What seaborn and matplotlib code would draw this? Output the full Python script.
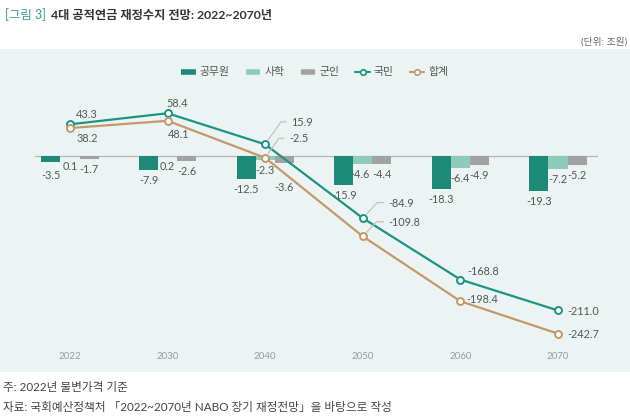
import numpy as np
import pandas as pd
import matplotlib
matplotlib.use("Agg")
import matplotlib.pyplot as plt
from matplotlib.lines import Line2D
from matplotlib.patches import Rectangle
import seaborn as sns

# ---------------- data ----------------
years = ["2022", "2030", "2040", "2050", "2060", "2070"]
bar_series = ["공무원", "사학", "군인"]
gongmuwon = [-3.5, -7.9, -12.5, -15.9, -18.3, -19.3]
sahak = [0.1, 0.2, -2.3, -4.6, -6.4, -7.2]
gunin = [-1.7, -2.6, -3.6, -4.4, -4.9, -5.2]
gukmin = [43.3, 58.4, 15.9, -84.9, -168.8, -211.0]
total = [38.2, 48.1, -2.5, -109.8, -198.4, -242.7]

title_tag = "[그림 3]"
title_main = "4대 공적연금 재정수지 전망: 2022~2070년"
unit_text = "(단위: 조원)"
note1 = "주: 2022년 불변가격 기준"
note2 = "자료: 국회예산정책처 「2022~2070년 NABO 장기 재정전망」을 바탕으로 작성"

# ---------------- style ----------------
sns.set_theme(style="white")
plt.rcParams['font.family'] = ['Lato', 'Noto Sans CJK KR', 'DejaVu Sans']

C_GONG = "#1B8A77"
C_SAHAK = "#8DCBBA"
C_GUN = "#A2A2A2"
C_GUKMIN = "#1D9382"
C_TOTAL = "#C4996A"
C_PANEL = "#EBF4F2"
C_TXT = "#555555"

W, H = 630, 420
fig = plt.figure(figsize=(W / 100, H / 100), dpi=100)
fig.patch.set_facecolor("white")

# panel background
fig.patches.append(Rectangle((0, 1 - 372 / H), 1, (372 - 49) / H,
                             transform=fig.transFigure, facecolor=C_PANEL,
                             edgecolor="none", zorder=-5))

# axes geometry (pixels)
ax_left, ax_right = 35, 598
ax_top, ax_bot = 90, 345
ax = fig.add_axes([ax_left / W, 1 - ax_bot / H, (ax_right - ax_left) / W, (ax_bot - ax_top) / H])
ax.set_facecolor("none")
ax.set_zorder(1)

# ---------------- bars ----------------
df_bar = pd.DataFrame({
    "year": years * 3,
    "series": [s for s in bar_series for _ in years],
    "value": gongmuwon + sahak + gunin,
})
sns.barplot(data=df_bar, x="year", y="value", hue="series", hue_order=bar_series,
            palette=[C_GONG, C_SAHAK, C_GUN], width=0.585, dodge=True,
            linewidth=0, ax=ax, legend=False, zorder=2, saturation=1)

x0px, x5px = 70, 558
ppu = (x5px - x0px) / 5
ax.set_xlim(-(x0px - ax_left) / ppu, 5 + (ax_right - x5px) / ppu)
zero_px = 156
bar_scale = 1.81
ax.set_ylim(-(ax_bot - zero_px) / bar_scale, (zero_px - ax_top) / bar_scale)
ax.axhline(0, color="#B5B5B5", lw=0.9, zorder=1)

# bar labels
extra = {(0, 0): -3, (2, 2): -14}
xshift = {(1, 3): -3}
all_bar_vals = [gongmuwon, sahak, gunin]
for si, cont in enumerate(ax.containers):
    vals = all_bar_vals[si]
    for yi, bar in enumerate(cont):
        v = vals[yi]
        xc = bar.get_x() + bar.get_width() / 2
        ax.annotate(f"{v:.1f}", (xc, min(v, 0)),
                    xytext=(xshift.get((si, yi), 0), -5 + extra.get((si, yi), 0)),
                    textcoords="offset pixels", ha="center", va="top",
                    fontsize=7.8, color=C_TXT, zorder=5)

ax.tick_params(axis="x", length=0, pad=5, labelsize=7, labelcolor="#9A9A9A")
ax.set_xlabel("")
ax.set_ylabel("")
ax.set_yticks([])
for s in ax.spines.values():
    s.set_visible(False)

# ---------------- lines ----------------
ax2 = ax.twinx()
line_scale = 0.732
ax2.set_ylim(-(ax_bot - zero_px) / line_scale, (zero_px - ax_top) / line_scale)
xpos = np.arange(len(years))
df_line = pd.DataFrame({
    "x": np.concatenate([xpos, xpos]),
    "value": gukmin + total,
    "series": ["국민"] * len(years) + ["합계"] * len(years),
})
sns.lineplot(data=df_line, x="x", y="value", hue="series", hue_order=["국민", "합계"],
             palette=[C_GUKMIN, C_TOTAL], marker="o", markersize=5,
             markerfacecolor="white", markeredgewidth=1.4, linewidth=1.6,
             ax=ax2, legend=False, zorder=3)
for ln, c in zip(ax2.lines, [C_GUKMIN, C_TOTAL]):
    ln.set_markeredgecolor(c)
    ln.set_markerfacecolor("white")
ax2.set_xlim(ax.get_xlim())
ax2.set_yticks([])
ax2.set_ylabel("")
ax2.set_xlabel("")
for s in ax2.spines.values():
    s.set_visible(False)

# line labels: (ha, dx, dy, leader)
gk_spec = [("center", 17, 10, False), ("center", 10, 10, False), ("left", 26, 22, True),
           ("left", 26, 15, True), ("left", 7, 8, False), ("left", 9, -1, False)]
tt_spec = [("center", 17, -10, False), ("center", 11, -14, False), ("left", 24, 19, True),
           ("left", 26, 14, True), ("left", 6, 2, False), ("left", 9, -1, False)]
angles = {2: 55, 3: 47}
for vals, spec in [(gukmin, gk_spec), (total, tt_spec)]:
    for i, (v, (ha, dx, dy, leader)) in enumerate(zip(vals, spec)):
        kw = {}
        if leader:
            kw["arrowprops"] = dict(arrowstyle="-", color="#BDBDBD", lw=0.8,
                                    shrinkA=1.5, shrinkB=4, relpos=(0, 0.55),
                                    connectionstyle=f"angle,angleA=0,angleB={angles[i]},rad=0")
        ax2.annotate(f"{v:.1f}", (i, v), xytext=(dx, dy), textcoords="offset pixels",
                     ha=ha, va="center", fontsize=7.8, color=C_TXT, zorder=5, **kw)

# ---------------- legend ----------------
handles = [
    Line2D([0], [0], color=C_GONG, lw=4, solid_capstyle="butt"),
    Line2D([0], [0], color=C_SAHAK, lw=4, solid_capstyle="butt"),
    Line2D([0], [0], color=C_GUN, lw=4, solid_capstyle="butt"),
    Line2D([0], [0], color=C_GUKMIN, lw=1.5, marker="o", markersize=4,
           markerfacecolor="white", markeredgecolor=C_GUKMIN, markeredgewidth=1.2),
    Line2D([0], [0], color=C_TOTAL, lw=1.5, marker="o", markersize=4,
           markerfacecolor="white", markeredgecolor=C_TOTAL, markeredgewidth=1.2),
]
labels = ["공무원", "사학", "군인", "국민", "합계"]
fig.legend(handles, labels, loc="center", bbox_to_anchor=(315 / W, 1 - 72 / H),
           ncol=5, frameon=False, fontsize=7.8, handlelength=1.3, handletextpad=0.4,
           columnspacing=1.5, labelcolor=C_TXT)

# ---------------- texts ----------------
t1 = fig.text(5 / W, 1 - 15 / H, title_tag, ha="left", va="center", fontsize=9,
              color="#3AA58E", fontweight="medium")
fig.canvas.draw()
bb = t1.get_window_extent()
fig.text((bb.x1 + 5) / W, 1 - 15 / H, title_main, ha="left", va="center", fontsize=8.8,
         color="#333333", fontweight="bold")
fig.text(627 / W, 1 - 42 / H, unit_text, ha="right", va="center", fontsize=7, color="#666666")
fig.text(3 / W, 1 - 388 / H, note1, ha="left", va="center", fontsize=8.4, color="#444444")
fig.text(3 / W, 1 - 407 / H, note2, ha="left", va="center", fontsize=8.4, color="#444444")

fig.savefig("out.png", dpi=100, facecolor="white")
